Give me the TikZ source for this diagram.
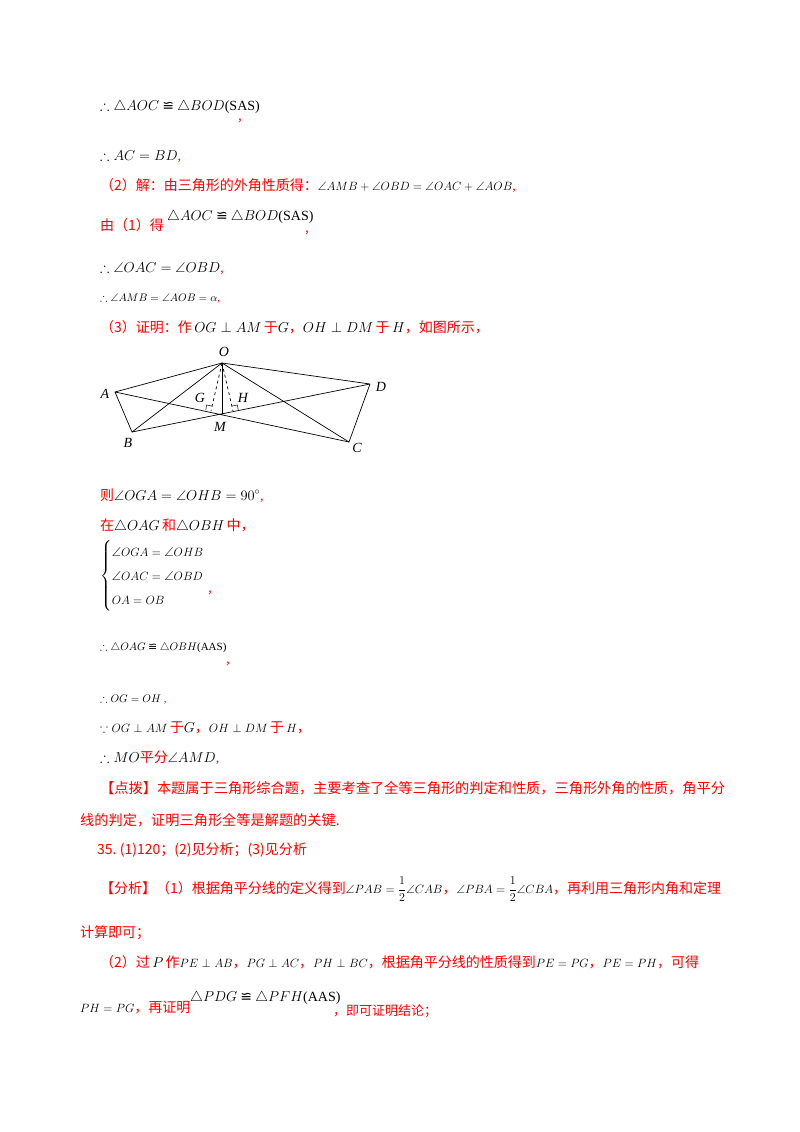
\documentclass[tikz,border=0pt]{standalone}
\usepackage{amsmath,amssymb}
\usepackage{fontspec}
\setmainfont{Liberation Serif}
\newfontfamily\cjk{Noto Sans CJK SC}
\newfontfamily\dvs{DejaVu Sans}
\newcommand{\cg}{\mathbin{\text{\dvs ≌}}}
\newcommand{\rd}[1]{\textcolor{red}{\cjk #1}}
\newcommand{\ms}[2]{{\fontsize{#1}{#1}\selectfont$#2$}}
\begin{document}
\begin{tikzpicture}[x=1pt,y=-1pt,
  t/.style={anchor=base west,inner sep=0pt,font=\fontsize{14}{16}\selectfont},
  sm/.style={anchor=base west,inner sep=0pt,font=\fontsize{11}{13}\selectfont},
  rc/.style={anchor=base west,inner sep=0pt,text=red,font=\fontsize{13}{14}\selectfont\cjk},
  lab/.style={inner sep=0pt,font=\fontsize{14}{16}\selectfont\itshape},
  ln/.style={line width=0.7pt}]
\useasboundingbox[fill=white] (0,0) rectangle (800,1132);
\node[t] (l1) at (100,110) {$\therefore\triangle AOC\cg\triangle BOD$(SAS)};
\node[rc] (c1) at (238,120) {,};
\node[t] (l2) at (100,160) {$\therefore AC=BD$\textcolor{red}{,}};
\node[t] (l3) at (100,190) {\rd{（2）解：由三角形的外角性质得：}\ms{12}{\angle AMB+\angle OBD=\angle OAC+\angle AOB}\textcolor{red}{,}};
\node[t] (l4) at (100,230) {\rd{由（1）得}};
\node[t] (l4b) at (167,220) {$\triangle AOC\cg\triangle BOD$(SAS)};
\node[rc] (c4) at (305,232) {,};
\node[t] (l5) at (100,272) {$\therefore\angle OAC=\angle OBD$\textcolor{red}{,}};
\node[sm] (l6) at (100,301) {$\therefore\angle AMB=\angle AOB=\alpha$\textcolor{red}{,}};
\node[t] (l7) at (100,332) {\rd{（3）证明：作}\,$OG\perp AM$\,\rd{于}$G$\rd{，}$OH\perp DM$\,\rd{于}\,$H$\rd{，如图所示，}};
% figure
\coordinate (O) at (222,363);
\coordinate (A) at (115,392);
\coordinate (D) at (370,384);
\coordinate (B) at (132,432);
\coordinate (C) at (349,442);
\coordinate (M) at (222,414);
\coordinate (G) at (211,411);
\coordinate (H) at (233,411);
\draw[ln] (A)--(O)--(D)--(C)--(A)--(B)--(D);
\draw[ln] (B)--(O)--(C);
\draw[ln] (O)--(M);
\draw[ln,dashed] (O)--(G) (O)--(H);
\draw[line width=0.5pt] (G)++(0.6,-5)--++(-5,-1)--++(-0.8,5);
\draw[line width=0.5pt] (H)++(-0.6,-5)--++(5,-1)--++(0.8,5);
\node[lab] (lO) at (224,352) {O};
\node[lab] (lA) at (105,394) {A};
\node[lab] (lD) at (381,387) {D};
\node[lab] (lB) at (128,443) {B};
\node[lab] (lC) at (357,448) {C};
\node[lab] (lM) at (220,427) {M};
\node[lab] (lG) at (200,398) {G};
\node[lab] (lH) at (243,398) {H};
% after figure
\node[t] (l8) at (100,500) {\rd{则}$\angle OGA=\angle OHB=90^\circ$\textcolor{red}{,}};
\node[t] (l9) at (100,530) {\rd{在}$\triangle OAG$\,\rd{和}$\triangle OBH$\,\rd{中，}};
\node[anchor=west,inner sep=0pt,font=\fontsize{13}{20}\selectfont] (l10) at (100,576) {$\begin{cases}\angle OGA=\angle OHB\\ \angle OAC=\angle OBD\\ OA=OB\end{cases}$};
\node[rc] (c10) at (208,592) {,};
\node[sm] (l11) at (100,650) {$\therefore\triangle OAG\cg\triangle OBH$(AAS)};
\node[rc] (c11) at (226,663) {,};
\node[sm] (l12) at (100,702) {$\therefore OG=OH$ \textcolor{red}{,}};
\node[t] (l13) at (100,732) {\ms{12}{\because OG\perp AM}\,\rd{于}$G$\rd{，}\ms{12}{OH\perp DM}\,\rd{于}\,\ms{12}{H}\rd{，}};
\node[t] (l14) at (100,762) {$\therefore MO$\rd{平分}$\angle AMD$\textcolor{red}{,}};
\node[rc,font=\fontsize{14.2}{16}\selectfont\cjk] (l15) at (100,793) {【点拨】本题属于三角形综合题，主要考查了全等三角形的判定和性质，三角形外角的性质，角平分};
\node[rc,font=\fontsize{14.2}{16}\selectfont\cjk] (l16) at (80,825) {线的判定，证明三角形全等是解题的关键.};
\node[rc,font=\fontsize{14}{16}\selectfont\cjk] (l17) at (97,854) {35.\ (1)120；(2)见分析；(3)见分析};
\node[t] (l18) at (100,893) {\rd{【分析】（1）根据角平分线的定义得到}\ms{12}{\angle PAB=\dfrac12\angle CAB}\rd{，}\ms{12}{\angle PBA=\dfrac12\angle CBA}\rd{，再利用三角形内角和定理}};
\node[rc,font=\fontsize{14}{16}\selectfont\cjk] (l19) at (80,937) {计算即可；};
\node[t] (l20) at (100,967) {\rd{（2）过}\,$P$\,\rd{作}\ms{13}{PE\perp AB}\rd{，}\ms{13}{PG\perp AC}\rd{，}\ms{13}{PH\perp BC}\rd{，根据角平分线的性质得到}\ms{13}{PE=PG}\rd{，}\ms{13}{PE=PH}\rd{，可得}};
\node[t] (l21) at (80,1012) {\ms{13}{PH=PG}\rd{，再证明}};
\node[t] (l21b) at (190,1001) {$\triangle PDG\cg\triangle PFH$(AAS)};
\node[rc] (c21) at (333,1015) {，即可证明结论；};
\end{tikzpicture}
\end{document}
